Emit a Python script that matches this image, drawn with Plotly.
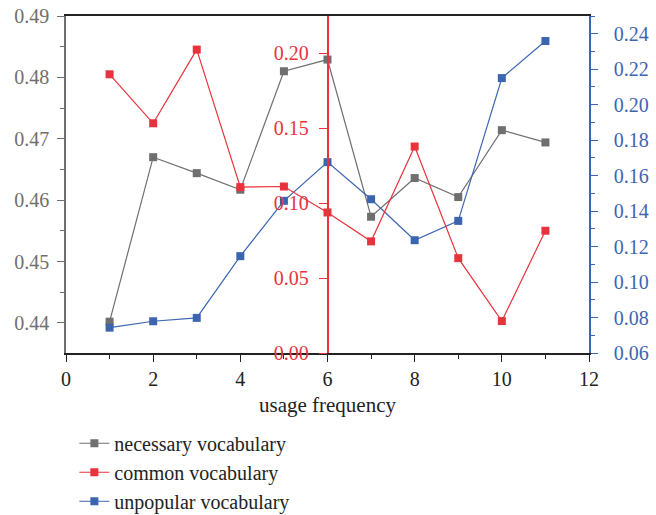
import plotly.graph_objects as go

x_vals = [1, 2, 3, 4, 5, 6, 7, 8, 9, 10, 11]
necessary = [0.4402, 0.4670, 0.4644, 0.4617, 0.4810, 0.4829, 0.4573, 0.4636, 0.4605, 0.4714, 0.4694]
common = [0.186, 0.1533, 0.2025, 0.1107, 0.1111, 0.0938, 0.0745, 0.1378, 0.0633, 0.0213, 0.0816]
unpopular = [0.0743, 0.0779, 0.0798, 0.1146, 0.1458, 0.1676, 0.1467, 0.1236, 0.1345, 0.2150, 0.2359]

GRAY = "#6f6f6f"
RED = "#e8323c"
BLUE = "#3c65b0"
FONT = "Liberation Serif"
FS = 20
FS2 = 21

fig = go.Figure()
fig.add_trace(go.Scatter(x=x_vals, y=necessary, mode="lines+markers", name="necessary vocabulary",
                         line=dict(color=GRAY, width=1.2), marker=dict(symbol="square", size=8, color=GRAY),
                         yaxis="y"))
fig.add_trace(go.Scatter(x=x_vals, y=common, mode="lines+markers", name="common vocabulary",
                         line=dict(color=RED, width=1.2), marker=dict(symbol="square", size=8, color=RED),
                         yaxis="y3"))
fig.add_trace(go.Scatter(x=x_vals, y=unpopular, mode="lines+markers", name="unpopular vocabulary",
                         line=dict(color=BLUE, width=1.2), marker=dict(symbol="square", size=8, color=BLUE),
                         yaxis="y2"))

fig.update_layout(
    width=656, height=515,
    margin=dict(l=66, r=67, t=16, b=162, autoexpand=False),
    plot_bgcolor="white", paper_bgcolor="white",
    font=dict(family=FONT, size=FS, color="#222"),
    showlegend=True,
    legend=dict(x=0.016, y=-0.21, xanchor="left", yanchor="top", font=dict(family=FONT, size=FS, color="#222"),
                bgcolor="rgba(0,0,0,0)"),
    xaxis=dict(range=[0, 12], dtick=2, tick0=0, showgrid=False, zeroline=False,
               showline=True, linecolor="#222", linewidth=1.5, mirror=True,
               ticks="outside", ticklen=7, tickcolor="#222", tickwidth=1.2,
               minor=dict(ticks="outside", ticklen=4, dtick=1, tickcolor="#222"),
               tickfont=dict(family=FONT, size=FS, color="#222"),
               title=dict(text="usage frequency", font=dict(family=FONT, size=FS2, color="#222"), standoff=9)),
    yaxis=dict(range=[0.4351, 0.49], dtick=0.01, tick0=0.44, showgrid=False, zeroline=False,
               showline=True, linecolor=GRAY, linewidth=1.5,
               ticks="outside", ticklen=7, tickcolor=GRAY, tickwidth=1.2,
               minor=dict(ticks="outside", ticklen=4, dtick=0.005, tickcolor=GRAY),
               tickformat=".2f", tickfont=dict(family=FONT, size=FS, color=GRAY), ticklabelstandoff=4),
    yaxis2=dict(range=[0.06, 0.25], dtick=0.02, tick0=0.06, overlaying="y", side="right", anchor="x",
                showgrid=False, zeroline=False, showline=True, linecolor=BLUE, linewidth=1.5,
                ticks="outside", ticklen=7, tickcolor=BLUE, tickwidth=1.2,
                minor=dict(ticks="outside", ticklen=4, dtick=0.01, tickcolor=BLUE),
                tickformat=".2f", tickfont=dict(family=FONT, size=FS, color=BLUE), ticklabelstandoff=12),
    yaxis3=dict(range=[0, 0.2249], dtick=0.05, tick0=0, overlaying="y", side="left", anchor="free",
                position=0.5, showgrid=False, zeroline=False, showline=True, linecolor=RED, linewidth=1.5,
                ticks="outside", ticklen=8, tickcolor=RED, tickwidth=1.2,
                tickformat=".2f", tickfont=dict(family=FONT, size=FS, color=RED), ticklabelstandoff=6),
    yaxis4=dict(range=[0, 0.2249], dtick=0.05, tick0=0, overlaying="y", side="right", anchor="free",
                position=0.5, showgrid=False, zeroline=False, showline=False,
                ticks="outside", ticklen=8, tickcolor=RED, tickwidth=1.2, showticklabels=False,
                minor=dict(ticks="outside", ticklen=5, dtick=0.025, tick0=0, tickcolor=RED)),
)

fig.write_html("out.html")
